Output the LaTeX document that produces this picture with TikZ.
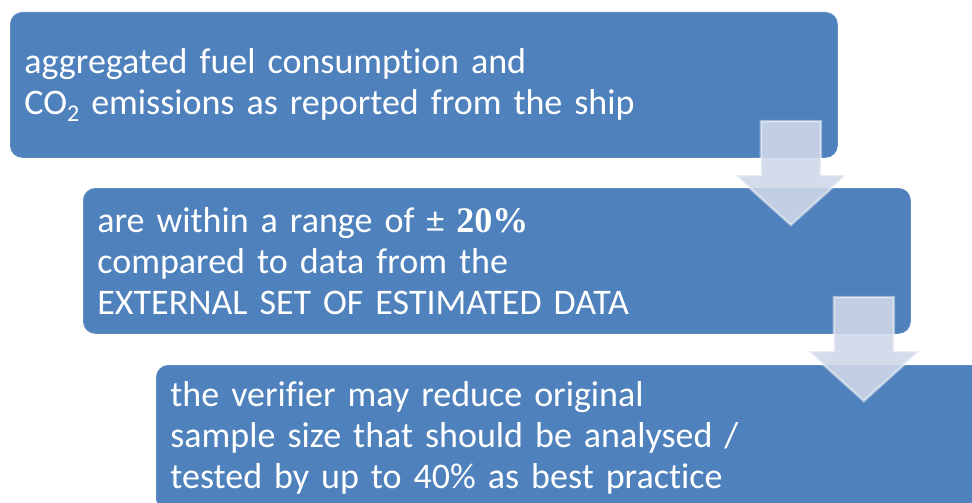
\documentclass[tikz,border=0pt]{standalone}
\usepackage{fontspec}
\setmainfont{Carlito}[Ligatures=NoCommon, WordSpace=0.85]
\newfontfamily\timesfont{Liberation Serif}
\usetikzlibrary{calc}
\definecolor{boxblue}{HTML}{4F81BD}
\definecolor{boxedge}{HTML}{5F8CC3}
\definecolor{arrowfill}{HTML}{CFD7E9}
\begin{document}
\begin{tikzpicture}[x=1pt,y=-1pt,
  stepbox/.style={fill=boxblue, draw=boxedge, line width=0.8pt, rounded corners=12pt,
    anchor=north west, minimum width=827pt, minimum height=145pt,
    text width=799pt, inner xsep=14pt, inner ysep=0pt, align=left, text=white,
    font=\fontsize{36}{41}\selectfont},
  flowarrow/.style={fill=arrowfill, fill opacity=0.9, draw=white, draw opacity=0.45,
    line width=2.5pt, line join=miter},
  downarrow/.pic={\draw[flowarrow] (-30,0) -- (30,0) -- (30,54) -- (55.5,54) -- (0,104)
    -- (-55.5,54) -- (-30,54) -- cycle;}]
\useasboundingbox (0,0) rectangle (972,503);
\clip (0,0) rectangle (972,503);
\node[stepbox] (b1) at (10,12) {aggregated fuel consumption and\\CO\raisebox{-0.45ex}{\fontsize{24}{24}\selectfont 2} emissions as reported from the ship};
\node[stepbox] (b2) at (83,188) {are within a range of ± {\timesfont\bfseries 20\%}\\compared to data from the\\EXTERNAL SET OF ESTIMATED DATA};
\node[stepbox] (b3) at (156,365) {the verifier may reduce original\\sample size that should be analysed /\\tested by up to 40\% as best practice};
\coordinate (a1) at ($(b1.north east)+(-47,109)$);
\coordinate (a2) at ($(b2.north east)+(-47,109)$);
\pic at (a1) {downarrow};
\pic at (a2) {downarrow};
\end{tikzpicture}
\end{document}
